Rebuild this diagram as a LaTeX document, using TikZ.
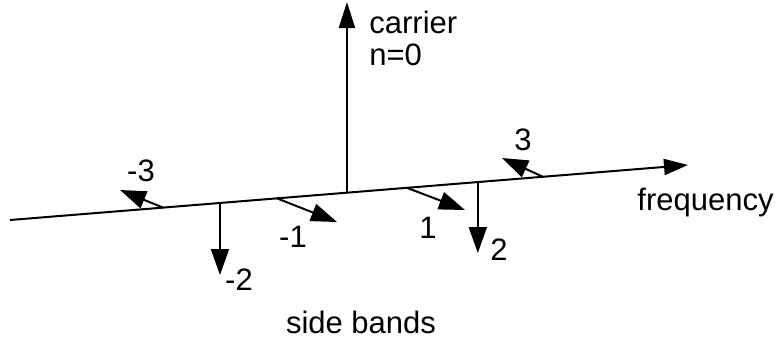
\documentclass[tikz,border=0pt]{standalone}
\usepackage{fontspec}
\setmainfont{Liberation Sans}
\usetikzlibrary{arrows.meta,calc}
\tikzset{
  axisline/.style = {line width=1pt, -{Triangle[length=12pt,width=8pt]}},
  band/.style     = {line width=1pt, -{Triangle[length=13pt,width=9pt]}},
  lbl/.style      = {inner sep=0pt, anchor=base, font=\fontsize{15.5}{16}\selectfont},
}
\begin{document}
\begin{tikzpicture}[x=0.5pt,y=-0.5pt]
  \useasboundingbox (0,0) rectangle (781,345);
  % frequency axis
  \coordinate (lo) at (10,220);
  \coordinate (hi) at (688,165);
  \draw[axisline] (lo) -- (hi);

  % feet on the axis
  \coordinate (m3) at ($(lo)!0.2257!(hi)$);
  \coordinate (m2) at ($(lo)!0.3097!(hi)$);
  \coordinate (m1) at ($(lo)!0.3938!(hi)$);
  \coordinate (c0) at ($(lo)!0.497!(hi)$);
  \coordinate (p1) at ($(lo)!0.5855!(hi)$);
  \coordinate (p2) at ($(lo)!0.690!(hi)$);
  \coordinate (p3) at ($(lo)!0.786!(hi)$);

  % tips
  \coordinate (m3t) at (120,190);
  \coordinate (m2t) at (m2 |- 0,275);
  \coordinate (m1t) at (337,222);
  \coordinate (c0t) at (c0 |- 0,2);
  \coordinate (p1t) at (465,210);
  \coordinate (p2t) at (p2 |- 0,253);
  \coordinate (p3t) at (502,158);

  \draw[band, -{Triangle[length=13pt,width=8pt]}] (c0) -- (c0t);
  \draw[band] (m3) -- (m3t);
  \draw[band] (m2) -- (m2t);
  \draw[band] (m1) -- (m1t);
  \draw[band] (p1) -- (p1t);
  \draw[band] (p2) -- (p2t);
  \draw[band] (p3) -- (p3t);

  % labels
  \node[lbl] (lm3) at (141,181) {-3};
  \node[lbl] (lm2) at (239,290) {-2};
  \node[lbl] (lm1) at (293,247) {-1};
  \node[lbl] (lp1) at (428,238) {1};
  \node[lbl] (lp2) at (499,260) {2};
  \node[lbl] (lp3) at (523,150) {3};
  \node[lbl, anchor=base west] (freq) at (637,210) {frequency};
  \node[lbl, anchor=base west, align=left] (carr) at (369,65) {carrier\\n=0};
  \node[lbl] (sb) at (361,333) {side bands};
\end{tikzpicture}
\end{document}
